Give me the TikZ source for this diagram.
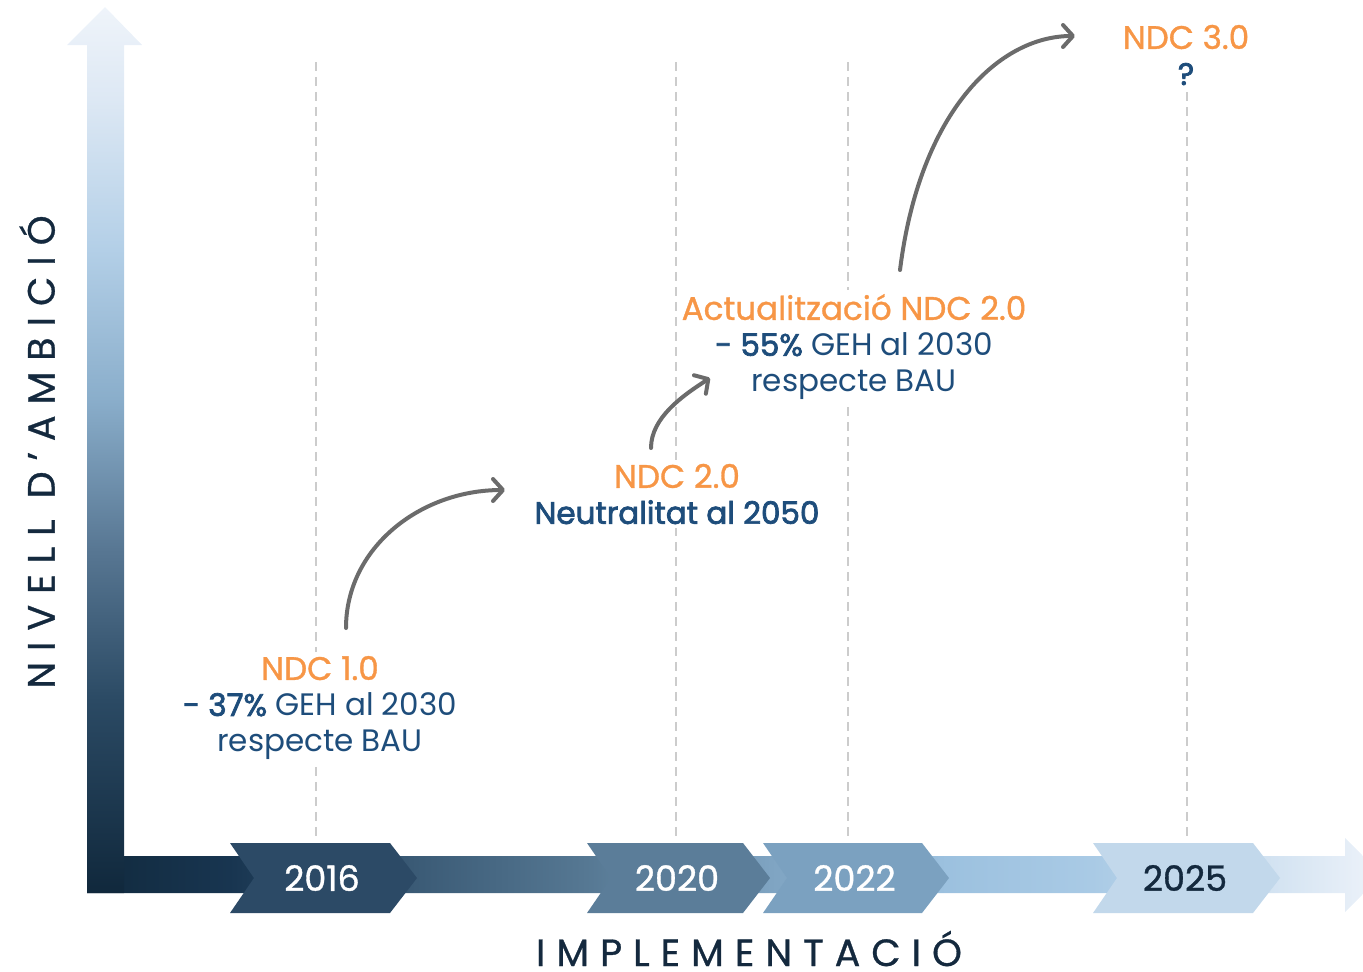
\documentclass[tikz,border=0pt]{standalone}
\usepackage{fontspec}
\setmainfont{Poppins}
\newfontfamily\medfont[FakeBold=1]{Poppins}
\newfontfamily\semifont[FakeBold=2.4]{Poppins}
\newfontfamily\axisfont[LetterSpace=29,FakeBold=0.8]{Poppins}
\usetikzlibrary{arrows.meta}

\definecolor{ndcorange}{HTML}{F79646}
\definecolor{geblue}{HTML}{1E4D7B}
\definecolor{navy}{HTML}{14293E}
\definecolor{arrowgray}{HTML}{6B6B6B}
\definecolor{c16}{HTML}{2C4A66}
\definecolor{c20}{HTML}{5B7D99}
\definecolor{c22}{HTML}{7BA1C0}
\definecolor{c25}{HTML}{C2D8EB}
% vertical axis colours, bottom to top
\definecolor{v0}{HTML}{10283C}
\definecolor{v1}{HTML}{2B4A64}
\definecolor{v2}{HTML}{587793}
\definecolor{v3}{HTML}{8AAECB}
\definecolor{v4}{HTML}{B3CFE7}
\definecolor{v5}{HTML}{DDE8F4}
\definecolor{v6}{HTML}{EFF4FA}
% horizontal axis colours, left to right
\definecolor{h0}{HTML}{112A3E}
\definecolor{h1}{HTML}{183550}
\definecolor{h2}{HTML}{3B5B76}
\definecolor{h3}{HTML}{567893}
\definecolor{h4}{HTML}{7FA4C2}
\definecolor{h5}{HTML}{9CC1DF}
\definecolor{h6}{HTML}{A9CAE5}
\definecolor{h7}{HTML}{D5E4F2}
\definecolor{h8}{HTML}{EEF3FA}

\pgfdeclareverticalshading{ambit}{100bp}{color(0bp)=(v0); color(25bp)=(v0);
  color(35.9bp)=(v1); color(44.4bp)=(v2); color(52.9bp)=(v3); color(61.3bp)=(v4);
  color(69.8bp)=(v5); color(75bp)=(v6); color(100bp)=(v6)}
\pgfdeclarehorizontalshading{impl}{100bp}{color(0bp)=(h0); color(25bp)=(h0);
  color(30.5bp)=(h1); color(37.7bp)=(h2); color(44.3bp)=(h3); color(51.4bp)=(h4);
  color(58.2bp)=(h5); color(63.8bp)=(h6); color(71.1bp)=(h7); color(75bp)=(h8);
  color(100bp)=(h8)}

\newcommand\ndctitle[1]{{\medfont\fontsize{16.3}{18}\selectfont\color{ndcorange}#1}}
\newcommand\heavy[1]{{\semifont #1}}

\begin{document}
\begin{tikzpicture}[x=0.5pt,y=-0.5pt,
  guide/.style={draw=gray!40, line width=1pt, dash pattern=on 4.5pt off 3pt},
  block/.style={align=center, text=geblue, fill=white, inner sep=2pt,
    font=\fontsize{15.5}{18}\selectfont},
  year/.style={font=\medfont\fontsize{17.5}{20}\selectfont},
  axislabel/.style={text=navy, inner sep=0pt, text depth=0pt,
    font=\axisfont\fontsize{19}{22}\selectfont},
  jump/.style={draw=arrowgray, line width=2pt, line cap=round,
    -{Straight Barb[length=5pt,width=11pt,round]}}]
\clip (0,0) rectangle (1363,971);

% axes
\shade[shading=impl] (87,856) -- (1345,856) -- (1345,838) -- (1382,875)
  -- (1345,912) -- (1345,893) -- (87,893) -- cycle;
\shade[shading=ambit] (87,893) -- (87,45) -- (67,45) -- (105,7) -- (142,45)
  -- (124,45) -- (124,893) -- cycle;

% dashed guides
\foreach \gx/\yr in {316/2016, 676/2020, 848/2022, 1187/2025}
{
    \coordinate (g\yr) at (\gx,62);
    \draw[guide] (g\yr) -- (\gx,842);
}

% year chevrons
\foreach \xa/\xb/\yr/\col/\txt in {230/390/2016/c16/white, 587/743/2020/c20/white,
  763/922/2022/c22/white, 1093/1253/2025/c25/navy}
{
    \fill[\col] (\xa,843) -- (\xb,843) -- (\xb+27,878) -- (\xb,913) -- (\xa,913)
      -- (\xa+24,878) -- cycle;
    \node[year, text=\txt] (y\yr) at ({(\xa+\xb)/2+12},878) {\yr};
}

% NDC texts
\node[block] (ndc1) at (320,708) {\ndctitle{NDC 1.0}\\\heavy{- 37\%} GEH al 2030\\respecte BAU};
\node[block] (ndc2) at (677,494) {\ndctitle{NDC 2.0}\\\heavy{Neutralitat al 2050}};
\node[block] (ndc2b) at (854,347) {\ndctitle{Actualització NDC 2.0}\\\heavy{- 55\%} GEH al 2030\\respecte BAU};
\node[block] (ndc3) at (1186,55) {\ndctitle{NDC 3.0}\\\heavy{?}};

% jumps
\coordinate (a1s) at (346,628); \coordinate (a1e) at (505,490);
\coordinate (a2s) at (651,448); \coordinate (a2e) at (710,378);
\coordinate (a3s) at (900,270); \coordinate (a3e) at (1075,36);
\draw[jump] (a1s) .. controls (346,548) and (420,490) .. (a1e);
\draw[jump] (a2s) .. controls (651,418) and (682,396) .. (a2e);
\draw[jump] (a3s) .. controls (920,110) and (1000,36) .. (a3e);

% axis labels
\node[axislabel, rotate=90] (ambicio) at (37,452) {NIVELL D’AMBICIÓ};
\node[axislabel, anchor=base] (implementacio) at (749,966) {IMPLEMENTACIÓ};
\end{tikzpicture}
\end{document}
